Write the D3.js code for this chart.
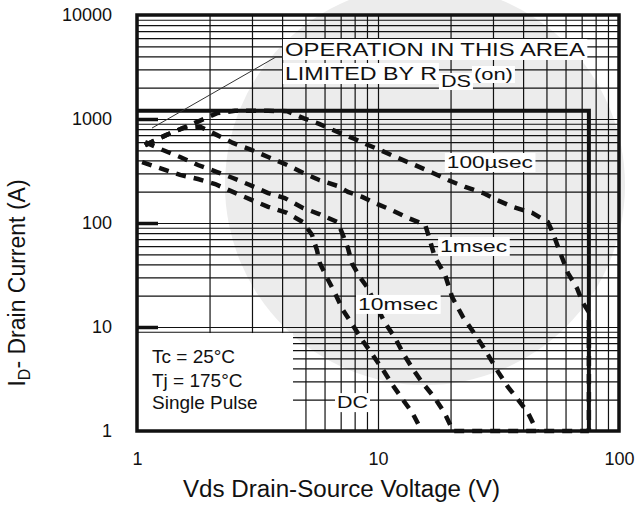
<!doctype html>
<html lang="en">
<head>
<meta charset="utf-8">
<title>Safe Operating Area</title>
<script src="https://cdn.jsdelivr.net/npm/d3@7"></script>
<style>
  body { margin: 0; background: #fff; }
  text { font-family: "Liberation Sans", Arial, sans-serif; fill: #111; }
  .grid line { stroke: #111; stroke-width: 1.2; }
  .grid path { display: none; }
  .soa { fill: none; stroke: #111; stroke-width: 4.5; stroke-dasharray: 10,8; }
</style>
</head>
<body>
<svg id="chart" width="640" height="526"></svg>
<script>
// axis ticks
var xTicks = [1, 10, 100];
var yTicks = [1, 10, 100, 1000, 10000];

// limits: max pulsed current and VDSS
var limitCurrent = 1200;
var limitVoltage = 75;

// curves, [Vds (V), Id (A)]
var curve100us = [[1.08, 560], [1.32, 700], [1.55, 818], [1.81, 955], [2.15, 1140], [2.55, 1200],
  [3, 1200], [3.5, 1200], [4.2, 1190], [4.9, 1020], [5.7, 896], [6.8, 750], [8, 642], [9.1, 562],
  [10.2, 503], [12.1, 422], [14.2, 361], [16.9, 303], [19.5, 259], [23, 222], [27.3, 194],
  [31.2, 166], [36.3, 143], [43.6, 125], [50.7, 102], [53.2, 80], [55.8, 59], [61.4, 33],
  [66.9, 23.7], [70.9, 17], [75, 13.9], [75, 1]];
var curve1ms = [[1.08, 560], [1.32, 700], [1.55, 818], [1.83, 840], [2.15, 700], [2.5, 588],
  [3, 503], [3.5, 431], [4.2, 361], [4.9, 303], [5.7, 259], [6.8, 227], [7.5, 199], [8.6, 178],
  [9.7, 156], [11.4, 133], [13.3, 112], [15.7, 96], [16.4, 69], [17.2, 47], [19, 31.6],
  [20.3, 19.4], [22.5, 12.5], [24.5, 9.4], [27, 6.7], [29.2, 5], [31.5, 3.7], [34.6, 2.65],
  [38.1, 2], [41.9, 1.5], [45.7, 1]];
var curve10ms = [[1.08, 600], [1.28, 503], [1.51, 431], [1.79, 361], [2.15, 309], [2.5, 271],
  [2.94, 232], [3.5, 194], [4.1, 174], [4.9, 139], [5.7, 122], [6.8, 102], [7.1, 80], [7.5, 57.5],
  [7.8, 41], [8.4, 30.3], [9, 24.3], [10.7, 10.9], [11.8, 7.8], [12.7, 5.6], [13.9, 4],
  [15.3, 2.9], [17.2, 2.08], [18.9, 1.49], [20.5, 1], [75, 1]];
var curveDC = [[1.05, 385], [1.28, 330], [1.51, 290], [1.79, 265], [2.11, 237], [2.5, 199],
  [3, 166], [3.5, 143], [4.19, 125], [4.88, 102], [5.32, 77], [5.58, 55], [5.74, 41], [6.21, 28.3],
  [6.63, 21.2], [7.15, 14.6], [7.86, 10.4], [8.6, 7.5], [9.5, 5.4], [10.5, 3.86], [11.5, 2.77],
  [12.7, 1.99], [13.9, 1.49], [15.2, 1]];

var curveLabels = ["100\u00b5sec", "1msec", "10msec", "DC"];
var conditions = ["Tc = 25\u00b0C", "Tj = 175\u00b0C", "Single Pulse"];

var svg = d3.select("#chart");
var x = d3.scaleLog().domain([1, 100]).range([137, 619]);
var y = d3.scaleLog().domain([1, 10000]).range([431, 15]);
var plotH = y(1) - y(10000);
var plotW = x(100) - x(1);

// faint watermark behind the grid
svg.append("circle").attr("cx", 425).attr("cy", 185).attr("r", 200).attr("fill", "#ececec");

// grid from the axes
svg.append("g").attr("class", "grid")
  .attr("transform", "translate(0," + y(1) + ")")
  .call(d3.axisBottom(x).tickSize(-plotH).tickFormat(""));
svg.append("g").attr("class", "grid")
  .attr("transform", "translate(" + x(1) + ",0)")
  .call(d3.axisLeft(y).tickSize(-plotW).tickFormat(""));

// heavier ticks on the left edge
svg.append("g").attr("class", "grid major")
  .attr("transform", "translate(" + x(1) + ",0)")
  .call(d3.axisRight(y).tickValues([10, 100, 1000]).tickSize(21).tickFormat(""))
  .selectAll("line").style("stroke-width", 3.5);

// tick labels
var yAxis = svg.append("g")
  .attr("transform", "translate(" + x(1) + ",0)")
  .call(d3.axisLeft(y).tickValues(yTicks).tickSize(0).tickPadding(25).tickFormat(d3.format("d")));
var xAxis = svg.append("g")
  .attr("transform", "translate(0," + y(1) + ")")
  .call(d3.axisBottom(x).tickValues(xTicks).tickSize(0).tickPadding(21).tickFormat(d3.format("d")));
[yAxis, xAxis].forEach(function(a) {
  a.select(".domain").remove();
  a.selectAll("text").style("font-size", "18px").style("font-family", "Liberation Sans, Arial, sans-serif").attr("fill", "#111");
});

// white box for the conditions
svg.append("rect")
  .attr("x", x(1)).attr("y", y(8.75))
  .attr("width", x(4.44) - x(1)).attr("height", y(1) - y(8.75))
  .attr("fill", "#fff");

var line = d3.line().x(function(d) { return x(d[0]); }).y(function(d) { return y(d[1]); });

// SOA limit box
svg.append("path")
  .attr("d", line([[1, limitCurrent], [limitVoltage, limitCurrent], [limitVoltage, 1]]))
  .attr("fill", "none").attr("stroke", "#111").attr("stroke-width", 4);

// pulse curves
[curve100us, curve1ms, curve10ms, curveDC].forEach(function(c) {
  svg.append("path").attr("class", "soa").attr("d", line(c));
});

// RDS(on) pointer
svg.append("path")
  .attr("d", line([[1.154, 818], [3.77, 3945], [4.08, 3945]]))
  .attr("fill", "none").attr("stroke", "#333").attr("stroke-width", 1);

// text with a tight white backing
function boxedText(px, py, str, size, width) {
  var g = svg.append("g");
  var bg = g.append("rect").attr("fill", "#fff");
  var t = g.append("text").attr("x", px).attr("y", py)
    .style("font-size", size + "px").text(str);
  if (width) t.attr("textLength", width).attr("lengthAdjust", "spacingAndGlyphs");
  var b = t.node().getBBox();
  bg.attr("x", b.x - 2).attr("y", b.y).attr("width", b.width + 4).attr("height", b.height);
  return t;
}

boxedText(x(19.3), y(338), curveLabels[0], 17, 86);
boxedText(x(18.1), y(52.6), curveLabels[1], 17, 67);
boxedText(x(8.26), y(14.6), curveLabels[2], 17, 80);
boxedText(x(6.76), y(1.66), curveLabels[3], 17, 31);

// operation note
boxedText(x(4.11), y(4036), "OPERATION IN THIS AREA", 19, 300);
boxedText(x(4.11), y(2371), "LIMITED BY R", 19, 152);
boxedText(x(4.11) + 156, y(2371) + 7, "DS", 16, 30);
boxedText(x(4.11) + 189, y(2371), "(on)", 16, 39);

// conditions
var condY = [4.5, 2.65, 1.63];
conditions.forEach(function(s, i) {
  svg.append("text").attr("x", x(1.154)).attr("y", y(condY[i]))
    .style("font-size", "19px").text(s);
});

// frame
svg.append("rect")
  .attr("x", x(1)).attr("y", y(10000)).attr("width", plotW).attr("height", plotH)
  .attr("fill", "none").attr("stroke", "#111").attr("stroke-width", 3.5);

// axis titles
svg.append("text")
  .attr("x", 183).attr("y", 497)
  .attr("textLength", 317).attr("lengthAdjust", "spacingAndGlyphs")
  .style("font-size", "23px")
  .text("Vds Drain-Source Voltage (V)");

var yt = svg.append("text")
  .attr("transform", "translate(25,283) rotate(-90)")
  .attr("text-anchor", "middle").style("font-size", "23px");
yt.append("tspan").text("I");
yt.append("tspan").attr("dy", 5).style("font-size", "16px").text("D");
yt.append("tspan").attr("dy", -5).text("- Drain Current (A)");
</script>
</body>
</html>
